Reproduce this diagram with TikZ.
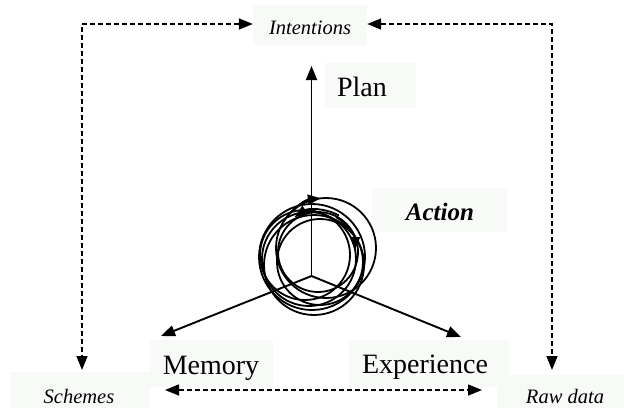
\documentclass[tikz,border=0pt]{standalone}
\usepackage{fontspec}
\setmainfont{Liberation Serif}
\usetikzlibrary{arrows.meta}
\definecolor{boxbg}{HTML}{F8FAF8}
\tikzset{
  box/.style={fill=boxbg, draw=none, inner sep=0pt},
  biglabel/.style={font=\fontsize{28}{30}\selectfont, anchor=base, inner sep=0pt},
  smalllabel/.style={font=\fontsize{20.5}{22}\selectfont\itshape, anchor=base, inner sep=0pt},
  axis/.style={line width=1.9pt, -{Triangle[length=14pt,width=11pt]}},
  link/.style={line width=1.5pt, dash pattern=on 5pt off 3pt,
    {Triangle[length=14pt,width=11pt]}-{Triangle[length=14pt,width=11pt]}},
  loop/.style={line width=1.8pt},
  looparrow/.style={line width=1.8pt, -{Triangle[length=13pt,width=10pt]}}
}
\begin{document}
\begin{tikzpicture}[x=1pt, y=-1pt]
\useasboundingbox (0,0) rectangle (624,408);

% label backgrounds
\node[box, minimum width=114pt, minimum height=40pt] (intentions) at (310,25) {};
\node[box, minimum width=91pt,  minimum height=45pt] (planbox)    at (370.5,85.5) {};
\node[box, minimum width=135pt, minimum height=44pt] (actionbox)  at (439.5,210) {};
\node[box, minimum width=140pt, minimum height=36pt] (schemesbox) at (80,390) {};
\node[box, minimum width=127pt, minimum height=33pt] (rawbox)     at (560.5,391.5) {};
\node[box, minimum width=123pt, minimum height=47pt] (memorybox)  at (211.5,363.5) {};
\node[box, minimum width=160pt, minimum height=47pt] (experiencebox) at (429,363.5) {};

% labels
\node[smalllabel] (intentions-text) at (310,34) {Intentions};
\node[biglabel] (plan) at (362,96) {Plan};
\node[font=\fontsize{25}{27}\selectfont\bfseries\itshape, anchor=base, inner sep=0pt] (action) at (440,220) {Action};
\node[smalllabel] (schemes) at (79,403) {Schemes};
\node[smalllabel] (rawdata) at (565,403) {Raw data};
\node[biglabel] (memory) at (211,374) {Memory};
\node[biglabel] (experience) at (425,373) {Experience};

% connector end points
\coordinate (o) at (311.5,276);
\coordinate (plan-tip) at (311.5,66);
\coordinate (memory-tip) at (161,336);
\coordinate (experience-tip) at (461,337);
\coordinate (schemes-tip) at (82,370);
\coordinate (raw-tip) at (552,370);
\coordinate (memory-link) at (165,390);
\coordinate (experience-link) at (482,390);

% the cycle of action
\draw[loop] (305,255) circle[radius=45];
\draw[loop] (326,248) circle[radius=50];
\draw[loop] (314,265) circle[radius=50];
\draw[loop] (318,252) circle[radius=40];
\draw[loop] (309,259) circle[radius=47];
\draw[loop] (320,262) circle[radius=43];
\draw[loop] (312,257) circle[radius=53];
\draw[looparrow] (326,248) ++(210:50) arc[start angle=210, end angle=264, radius=50];
\draw[looparrow] (318,252) ++(300:42) arc[start angle=300, end angle=236, radius=42];
\draw[looparrow] (317,250) ++(300:38) arc[start angle=300, end angle=360, radius=38];

% axes
\draw[axis] (o) -- (plan-tip);
\draw[axis] (o) -- (memory-tip);
\draw[axis] (o) -- (experience-tip);

% dashed links
\draw[link] (intentions.west |- 0,24) -| (schemes-tip);
\draw[link] (intentions.east |- 0,24) -| (raw-tip);
\draw[link] (memory-link) -- (experience-link);
\end{tikzpicture}
\end{document}
